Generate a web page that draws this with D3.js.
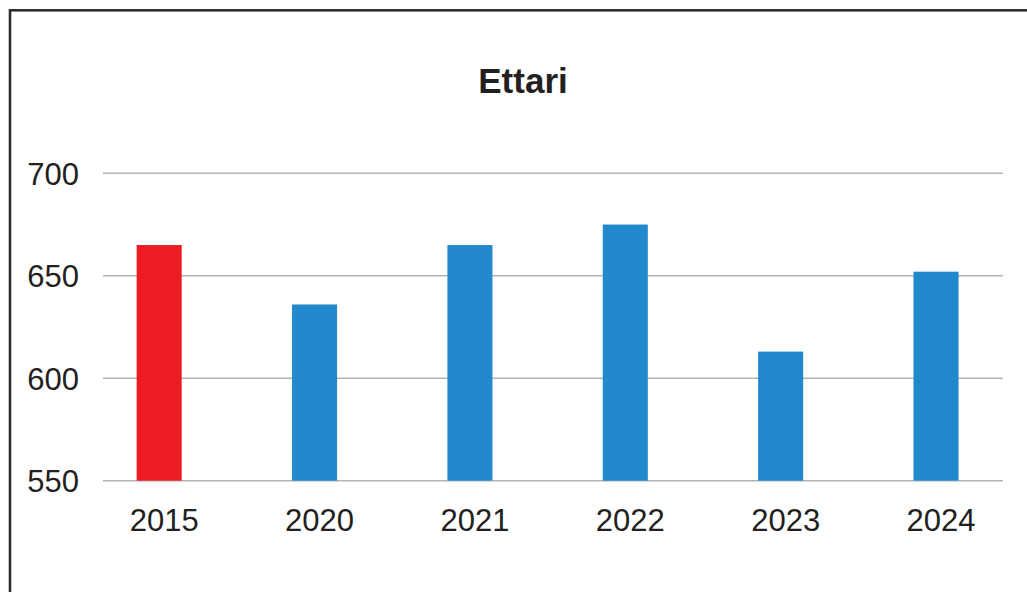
<!DOCTYPE html>
<html>
<head>
<meta charset="utf-8">
<script src="https://cdn.jsdelivr.net/npm/d3@7"></script>
<style>
  html, body { margin: 0; padding: 0; background: #fff; }
  svg { display: block; font-family: "Liberation Sans", Arial, Helvetica, sans-serif; }
</style>
</head>
<body>
<svg id="chart" width="1027" height="592"></svg>
<script>
// Hectares per year
const years = ["2015", "2020", "2021", "2022", "2023", "2024"];
const hectares = [665, 636, 665, 675, 613, 652];
const yTicks = [550, 600, 650, 700];
const title = "Ettari";
const baseYear = "2015";

const svg = d3.select("#chart");

// Outer frame (left and top edges visible)
svg.append("rect")
  .attr("x", 10).attr("y", 10.3)
  .attr("width", 1100).attr("height", 700)
  .attr("fill", "none")
  .attr("stroke", "#2e2e2e")
  .attr("stroke-width", 2.6);

const y = d3.scaleLinear().domain([550, 700]).range([480.7, 173.3]);

const x = d3.scaleBand()
  .domain(years)
  .range([81.5, 1013.7])
  .paddingInner(0.71)
  .paddingOuter(0.355);

const gridLeft = 103, gridRight = 1003;

// Horizontal gridlines
svg.append("g")
  .selectAll("line")
  .data(yTicks)
  .join("line")
  .attr("x1", gridLeft).attr("x2", gridRight)
  .attr("y1", d => y(d)).attr("y2", d => y(d))
  .attr("stroke", "#b4b4b4")
  .attr("stroke-width", 1.4);

// Bars
svg.append("g")
  .selectAll("rect")
  .data(years.map((yr, i) => ({ yr, v: hectares[i] })))
  .join("rect")
  .attr("x", d => x(d.yr))
  .attr("width", x.bandwidth())
  .attr("y", d => y(d.v))
  .attr("height", d => y(550) - y(d.v))
  .attr("fill", d => d.yr === baseYear ? "#ED1C24" : "#2389CD");

// Y axis labels
const yAxis = d3.axisLeft(y).tickValues(yTicks).tickSize(0).tickPadding(0);
const gy = svg.append("g").attr("transform", "translate(79,0)").call(yAxis);
gy.select(".domain").remove();
gy.selectAll("text")
  .attr("font-size", 31)
  .attr("font-family", "'Liberation Sans', Arial, sans-serif")
  .attr("fill", "#231f20")
  .attr("dy", "0.36em");

// X axis labels
const xAxis = d3.axisBottom(x).tickSize(0).tickPadding(0);
const gx = svg.append("g").attr("transform", "translate(5,508)").call(xAxis);
gx.select(".domain").remove();
gx.selectAll("text")
  .attr("font-size", 31)
  .attr("font-family", "'Liberation Sans', Arial, sans-serif")
  .attr("fill", "#231f20")
  .attr("dy", "0.73em");

// Title
svg.append("text")
  .attr("x", 523).attr("y", 92.5)
  .attr("text-anchor", "middle")
  .attr("font-size", 35)
  .attr("font-weight", "bold")
  .attr("fill", "#231f20")
  .text(title);
</script>
</body>
</html>
